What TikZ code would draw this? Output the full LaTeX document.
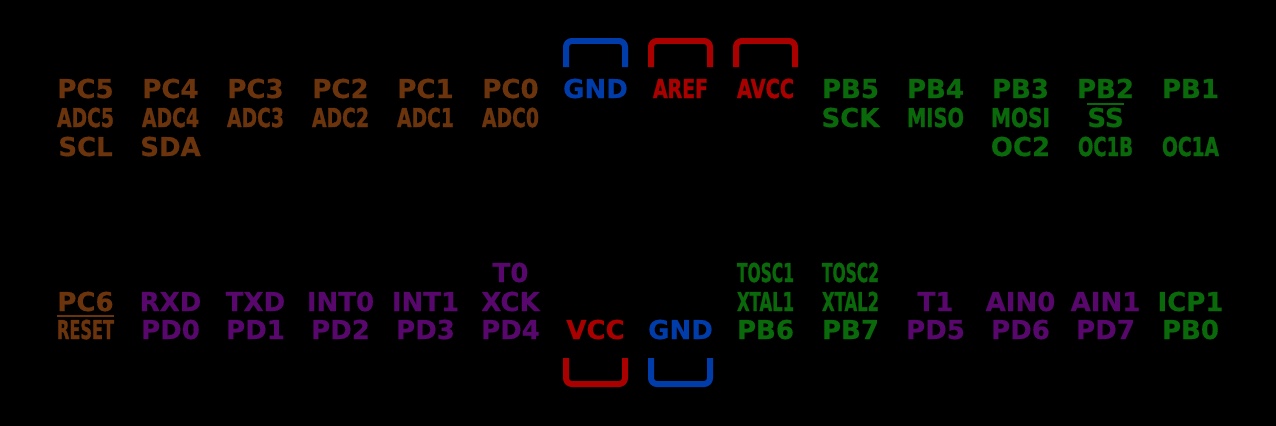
\documentclass[tikz,border=0pt]{standalone}
\usepackage{fontspec}
\setmainfont{DejaVu Sans}[BoldFeatures={FakeBold=0.6}]
\newfontfamily\narrowfont{DejaVu Sans}[BoldFeatures={FakeBold=1.6}]
\usetikzlibrary{positioning}
\definecolor{portc}{RGB}{107,52,12}
\definecolor{portb}{RGB}{10,105,10}
\definecolor{portd}{RGB}{88,8,108}
\definecolor{pwrred}{RGB}{170,0,0}
\definecolor{gndblue}{RGB}{0,60,170}
\newcommand{\pinsize}{\fontsize{14.8pt}{17pt}\selectfont}
\newcommand{\barover}[1]{\vbox{\hrule height 1.2pt\kern1.6pt\hbox{#1}}}
\newcommand{\squeeze}[1]{\resizebox{1.14cm}{\height}{#1}}
\tikzset{
  lbl/.style={anchor=base, inner sep=0pt, font=\pinsize\bfseries},
  nlbl/.style={anchor=base, inner sep=0pt, font=\pinsize\narrowfont\bfseries},
  bracket/.style={line width=0.12cm, rounded corners=0.12cm}
}

\begin{document}
\begin{tikzpicture}[x=0.02cm, y=-0.02cm]

\fill[black] (0,0) rectangle (1276,426);

% Top row: port C
\foreach \i/\nm/\tx in {0/pc5/PC5, 1/pc4/PC4, 2/pc3/PC3, 3/pc2/PC2, 4/pc1/PC1, 5/pc0/PC0}
  \node[lbl, text=portc] (\nm) at (85.5+85*\i, 98) {\tx};
\foreach \i/\nm/\tx in {0/adc5/ADC5, 1/adc4/ADC4, 2/adc3/ADC3, 3/adc2/ADC2, 4/adc1/ADC1, 5/adc0/ADC0}
  \node[nlbl, text=portc] (\nm) at (85.5+85*\i, 127) {\squeeze{\tx}};
\node[lbl, text=portc] (scl) at (85.5, 156) {SCL};
\node[lbl, text=portc] (sda) at (170.5, 156) {SDA};

% Top row: supply pins
\node[lbl, text=gndblue] (gndtop) at (595.5, 98) {GND};
\node[nlbl, text=pwrred] (aref) at (680.5, 98) {\resizebox{1.1cm}{\height}{AREF}};
\node[nlbl, text=pwrred] (avcc) at (765.5, 98) {\squeeze{AVCC}};

% Top row: port B
\foreach \i/\nm/\tx in {9/pb5/PB5, 10/pb4/PB4, 11/pb3/PB3, 12/pb2/PB2, 13/pb1/PB1}
  \node[lbl, text=portb] (\nm) at (85.5+85*\i, 98) {\tx};
\node[lbl, text=portb] (sck) at (850.5, 127) {SCK};
\node[nlbl, text=portb] (miso) at (935.5, 127) {\squeeze{MISO}};
\node[nlbl, text=portb] (mosi) at (1020.5, 127) {\resizebox{1.18cm}{\height}{MOSI}};
\node[lbl, text=portb] (ss) at (1105.5, 127) {\barover{SS}};
\node[lbl, text=portb] (oc2) at (1020.5, 156) {OC2};
\node[nlbl, text=portb] (oc1b) at (1105.5, 156) {\resizebox{1.1cm}{\height}{OC1B}};
\node[nlbl, text=portb] (oc1a) at (1190.5, 156) {\squeeze{OC1A}};

% Bottom row: reset and port D
\node[lbl, text=portc] (pc6) at (85.5, 311) {PC6};
\node[nlbl, text=portc] (reset) at (85.5, 339) {\barover{\squeeze{RESET}}};
\foreach \i/\nm/\tx in {1/rxd/RXD, 2/txd/TXD, 3/int0/INT0, 4/int1/INT1, 5/xck/XCK}
  \node[lbl, text=portd] (\nm) at (85.5+85*\i, 311) {\tx};
\foreach \i/\nm/\tx in {1/pd0/PD0, 2/pd1/PD1, 3/pd2/PD2, 4/pd3/PD3, 5/pd4/PD4}
  \node[lbl, text=portd] (\nm) at (85.5+85*\i, 339) {\tx};
\node[lbl, text=portd] (t0) at (510.5, 282) {T0};

% Bottom row: supply pins
\node[lbl, text=pwrred] (vcc) at (595.5, 339) {VCC};
\node[lbl, text=gndblue] (gndbot) at (680.5, 339) {GND};

% Bottom row: crystal pins
\node[nlbl, text=portb] (tosc1) at (765.5, 282) {\squeeze{TOSC1}};
\node[nlbl, text=portb] (xtal1) at (765.5, 311) {\squeeze{XTAL1}};
\node[lbl, text=portb] (pb6) at (765.5, 339) {PB6};
\node[nlbl, text=portb] (tosc2) at (850.5, 282) {\squeeze{TOSC2}};
\node[nlbl, text=portb] (xtal2) at (850.5, 311) {\squeeze{XTAL2}};
\node[lbl, text=portb] (pb7) at (850.5, 339) {PB7};

% Bottom row: port D upper bits and PB0
\foreach \i/\nm/\tx in {10/t1/T1, 11/ain0/AIN0, 12/ain1/AIN1}
  \node[lbl, text=portd] (\nm) at (85.5+85*\i, 311) {\tx};
\foreach \i/\nm/\tx in {10/pd5/PD5, 11/pd6/PD6, 12/pd7/PD7}
  \node[lbl, text=portd] (\nm) at (85.5+85*\i, 339) {\tx};
\node[lbl, text=portb] (icp1) at (1190.5, 311) {ICP1};
\node[lbl, text=portb] (pb0) at (1190.5, 339) {PB0};

% Brackets
\draw[bracket, gndblue] (566,67) -- (566,41) -- (625,41) -- (625,67);
\draw[bracket, pwrred] (651,67) -- (651,41) -- (710,41) -- (710,67);
\draw[bracket, pwrred] (736,67) -- (736,41) -- (795,41) -- (795,67);
\draw[bracket, pwrred] (566,358) -- (566,384) -- (625,384) -- (625,358);
\draw[bracket, gndblue] (651,358) -- (651,384) -- (710,384) -- (710,358);

\end{tikzpicture}
\end{document}
